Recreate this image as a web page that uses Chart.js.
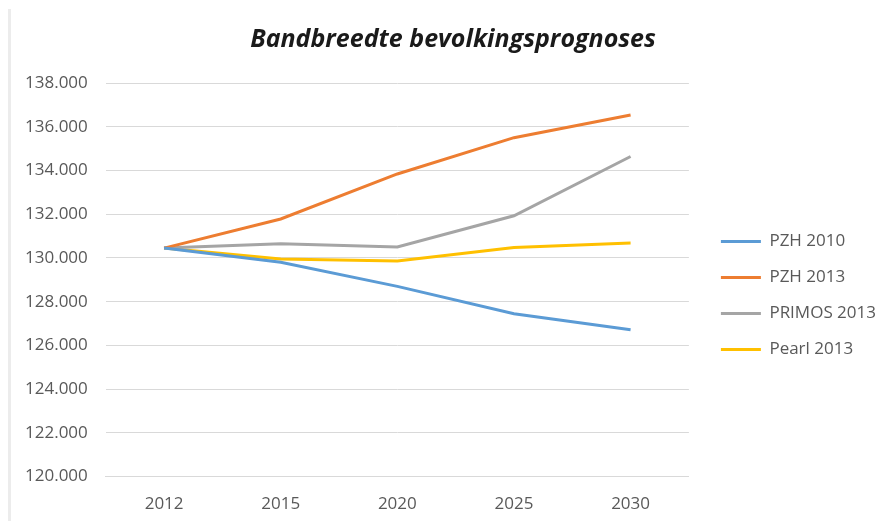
<!DOCTYPE html>
<html>
<head>
<meta charset="utf-8">
<script src="https://cdn.jsdelivr.net/npm/chart.js@4"></script>
<style>
    html, body { margin: 0; padding: 0; background: #fff; overflow: hidden; }
    #wrap { position: relative; width: 888px; height: 521px; }
    #frameLine { position: absolute; left: 8px; top: 9px; width: 3px; height: 512px; background: #ececec; }
    canvas { display: block; }
</style>
</head>
<body>
<div id="wrap">
    <div id="frameLine"></div>
    <canvas id="prognoseChart" width="888" height="521"></canvas>
</div>
<script>
// Data
const years = ['2012', '2015', '2020', '2025', '2030'];
const pzh2010 = [130450, 129800, 128700, 127450, 126720];
const pzh2013 = [130450, 131780, 133840, 135500, 136540];
const primos2013 = [130450, 130650, 130500, 131930, 134640];
const pearl2013 = [130450, 129950, 129860, 130480, 130680];
const yMin = 120000;
const yMax = 138000;
const yStep = 2000;

// format 138000 -> 138.000
function dutchNumber(v) {
    return Math.round(v).toString().replace(/\B(?=(\d{3})+(?!\d))/g, '.');
}

// nudge legend and title, like in the excel chart
const boxShift = {
    id: 'boxShift',
    afterLayout(chart) {
        chart.legend.left += 13;
        chart.legend.right += 13;
        chart.legend.top += 30;
        chart.legend.bottom += 30;
        chart.titleBlock.left += 13;
        chart.titleBlock.right += 13;
    }
};

Chart.defaults.font.family = "'Open Sans', sans-serif";
Chart.defaults.color = '#595959';

const ctx = document.getElementById('prognoseChart').getContext('2d');
const prognoseChart = new Chart(ctx, {
    type: 'line',
    data: {
        labels: years,
        datasets: [
            { label: 'PZH 2010', data: pzh2010, borderColor: '#5b9bd5', backgroundColor: '#5b9bd5', borderWidth: 3 },
            { label: 'PZH 2013', data: pzh2013, borderColor: '#ed7d31', backgroundColor: '#ed7d31', borderWidth: 3 },
            { label: 'PRIMOS 2013', data: primos2013, borderColor: '#a5a5a5', backgroundColor: '#a5a5a5', borderWidth: 3 },
            { label: 'Pearl 2013', data: pearl2013, borderColor: '#ffc000', backgroundColor: '#ffc000', borderWidth: 3 }
        ]
    },
    options: {
        responsive: false,
        animation: false,
        elements: {
            line: { tension: 0 },
            point: { radius: 0 }
        },
        layout: {
            padding: { left: 7, right: 15, top: 0, bottom: -10 }
        },
        scales: {
            x: {
                offset: true,
                grid: { display: false, drawTicks: false },
                border: { color: '#d9d9d9' },
                ticks: { padding: 17, font: { size: 17 } }
            },
            y: {
                min: yMin,
                max: yMax,
                grid: { color: '#d9d9d9', drawTicks: false },
                border: { display: false },
                ticks: {
                    stepSize: yStep,
                    padding: 18,
                    font: { size: 17 },
                    callback: function(value) {
                        return dutchNumber(value);
                    }
                }
            }
        },
        plugins: {
            title: {
                display: true,
                text: 'Bandbreedte bevolkingsprognoses',
                color: '#1a1a1a',
                font: { size: 25, weight: 'bold', style: 'italic' },
                padding: { top: 25, bottom: 28 }
            },
            legend: {
                position: 'right',
                labels: {
                    usePointStyle: true,
                    pointStyle: 'line',
                    pointStyleWidth: 40,
                    padding: 19,
                    font: { size: 17 },
                    color: '#595959'
                }
            },
            tooltip: { enabled: false }
        }
    },
    plugins: [boxShift]
});
</script>
</body>
</html>
